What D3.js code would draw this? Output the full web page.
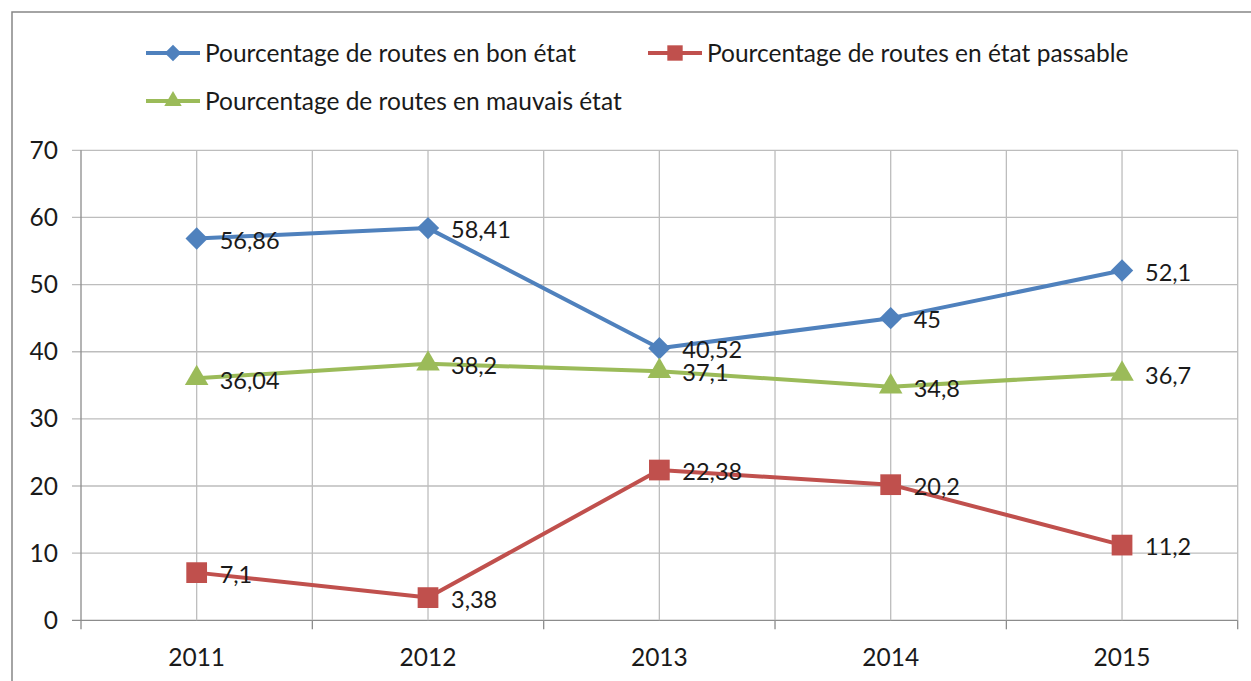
<!DOCTYPE html>
<html>
<head>
<meta charset="utf-8">
<script src="https://cdn.jsdelivr.net/npm/d3@7"></script>
<style>
body { margin: 0; background: #fff; }
text { font-family: Lato, "Open Sans", sans-serif; fill: #1a1a1a; }
</style>
</head>
<body>
<div id="chart"></div>
<script>
// data
const years = ["2011", "2012", "2013", "2014", "2015"]
const bonEtat = [56.86, 58.41, 40.52, 45, 52.1]
const passable = [7.1, 3.38, 22.38, 20.2, 11.2]
const mauvais = [36.04, 38.2, 37.1, 34.8, 36.7]
const seriesNames = [
	"Pourcentage de routes en bon état",
	"Pourcentage de routes en état passable",
	"Pourcentage de routes en mauvais état"
]
const yTicks = [0, 10, 20, 30, 40, 50, 60, 70]

const W = 1251, H = 681
const plotLeft = 81, plotRight = 1237.7, plotTop = 150.3, plotBottom = 620.3
const fs = 24.5

const series = [
	{name: seriesNames[0], values: bonEtat, color: "#4F81BD", shape: "diamond"},
	{name: seriesNames[1], values: passable, color: "#C0504D", shape: "square"},
	{name: seriesNames[2], values: mauvais, color: "#9BBB59", shape: "triangle"}
]

const svg = d3.select("#chart").append("svg")
	.attr("width", W)
	.attr("height", H)

// outer frame (runs off the bottom/right of the picture)
svg.append("rect")
	.attr("x", 12).attr("y", 12)
	.attr("width", W + 20).attr("height", H + 20)
	.attr("fill", "none")
	.attr("stroke", "#868686")
	.attr("stroke-width", 1.5)

const x = d3.scaleBand().domain(years).range([plotLeft, plotRight])
const y = d3.scaleLinear().domain([0, 70]).range([plotBottom, plotTop])

const grid = svg.append("g")

// horizontal gridlines, sticking out left as tick marks
grid.selectAll(".hgrid")
	.data(yTicks)
	.join("line")
	.attr("x1", plotLeft - 9).attr("x2", plotRight)
	.attr("y1", d => y(d)).attr("y2", d => y(d))
	.attr("stroke", d => d == 0 ? "#8c8c8c" : "#bdbdbd")
	.attr("stroke-width", 1.3)

// vertical gridlines at category centres and boundaries
const vx = []
years.forEach(d => { vx.push(x(d)); vx.push(x(d) + x.bandwidth() / 2) })
vx.push(plotRight)
grid.selectAll(".vgrid")
	.data(vx)
	.join("line")
	.attr("x1", d => d).attr("x2", d => d)
	.attr("y1", plotTop).attr("y2", plotBottom)
	.attr("stroke", (d, i) => i == 0 ? "#8c8c8c" : "#bdbdbd")
	.attr("stroke-width", 1.3)

// x tick marks under axis at boundaries
const bounds = years.map(d => x(d)).concat([plotRight])
grid.selectAll(".xtick")
	.data(bounds)
	.join("line")
	.attr("x1", d => d).attr("x2", d => d)
	.attr("y1", plotBottom).attr("y2", plotBottom + 9)
	.attr("stroke", "#8c8c8c")
	.attr("stroke-width", 1.3)

// y labels
svg.selectAll(".ylab")
	.data(yTicks)
	.join("text")
	.attr("x", 58)
	.attr("y", d => y(d))
	.attr("dy", "0.35em")
	.attr("text-anchor", "end")
	.attr("font-size", fs)
	.text(d => d)

// x labels
svg.selectAll(".xlab")
	.data(years)
	.join("text")
	.attr("x", d => x(d) + x.bandwidth() / 2)
	.attr("y", 657)
	.attr("dy", "0.35em")
	.attr("text-anchor", "middle")
	.attr("font-size", fs)
	.text(d => d)

// diamond = square turned 45 degrees, as in the original
const symbolFor = {
	diamond: d3.symbolSquare,
	square: d3.symbolSquare,
	triangle: d3.symbolTriangle
}
const markSize = {diamond: 250, square: 430, triangle: 240}
const rot = shape => shape == "diamond" ? " rotate(45)" : ""

const cx = (d, i) => x(years[i]) + x.bandwidth() / 2

const line = d3.line()
	.x((d, i) => cx(d, i))
	.y(d => y(d))

series.forEach(s => {
	const g = svg.append("g")
	g.append("path")
		.attr("d", line(s.values))
		.attr("fill", "none")
		.attr("stroke", s.color)
		.attr("stroke-width", 4)
		.attr("stroke-linejoin", "round")

	g.selectAll(".mark")
		.data(s.values)
		.join("path")
		.attr("transform", (d, i) => `translate(${cx(d, i)},${y(d)})` + rot(s.shape))
		.attr("d", d3.symbol().type(symbolFor[s.shape]).size(markSize[s.shape]))
		.attr("fill", s.color)
})

// data labels
series.forEach(s => {
	svg.append("g").selectAll("text")
		.data(s.values)
		.join("text")
		.attr("x", (d, i) => cx(d, i) + 23)
		.attr("y", d => y(d) + 2)
		.attr("dy", "0.35em")
		.attr("font-size", 23.5)
		.text(d => String(d).replace(".", ","))
})

// legend
const legendPos = [
	{x: 146, y: 53},
	{x: 648, y: 53},
	{x: 146, y: 101}
]
series.forEach((s, i) => {
	const p = legendPos[i]
	const g = svg.append("g").attr("transform", `translate(${p.x},${p.y})`)
	g.append("line")
		.attr("x1", 0).attr("x2", 54)
		.attr("stroke", s.color)
		.attr("stroke-width", 4)
	g.append("path")
		.attr("transform", "translate(27,0)" + rot(s.shape))
		.attr("d", d3.symbol().type(symbolFor[s.shape]).size(markSize[s.shape] * 0.55))
		.attr("fill", s.color)
	g.append("text")
		.attr("x", 59)
		.attr("dy", "0.35em")
		.attr("font-size", fs)
		.text(s.name)
})
</script>
</body>
</html>
